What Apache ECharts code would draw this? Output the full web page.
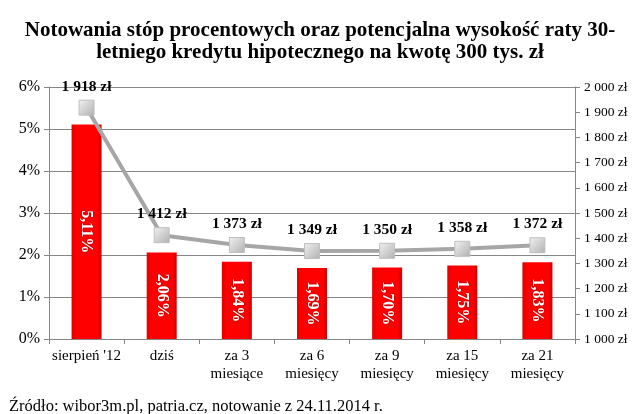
<!DOCTYPE html>
<html><head><meta charset="utf-8">
<script src="https://cdn.jsdelivr.net/npm/echarts@6/dist/echarts.min.js"></script>
<style>html,body{margin:0;padding:0;background:#fff}#c{width:640px;height:414px}</style>
</head><body><div id="c"></div>
<script>
const categories = ["sierpień '12", "dziś", "za 3\nmiesiące", "za 6\nmiesięcy", "za 9\nmiesięcy", "za 15\nmiesięcy", "za 21\nmiesięcy"];
const rates = [5.11, 2.06, 1.84, 1.69, 1.70, 1.75, 1.83];
const installments = [1918, 1412, 1373, 1349, 1350, 1358, 1372];
const titleText = "Notowania stóp procentowych oraz potencjalna wysokość raty 30-\nletniego kredytu hipotecznego na kwotę 300 tys. zł";
const sourceText = "Źródło: wibor3m.pl, patria.cz, notowanie z 24.11.2014 r.";

const serif = "'Liberation Serif', 'DejaVu Serif', serif";
function zl(v){ return String(v).replace(/\B(?=(\d{3})+(?!\d))/g, ' ') + ' zł'; }

const chart = echarts.init(document.getElementById('c'));
chart.setOption({
  animation: false,
  title: [{
    text: titleText, left: 'center', top: 15,
    textStyle: {fontFamily: serif, fontSize: 21, fontWeight: 'bold', color: '#000', lineHeight: 22}
  }, {
    text: sourceText, left: 4, top: 393,
    textStyle: {fontFamily: serif, fontSize: 16.5, fontWeight: 'normal', color: '#000'}
  }],
  grid: {left: 49, right: 65, top: 87, bottom: 75},
  xAxis: {
    type: 'category', data: categories,
    axisLine: {lineStyle: {color: '#868686'}},
    axisTick: {show: true, lineStyle: {color: '#868686'}, length: 5},
    axisLabel: {interval: 0, fontFamily: serif, fontSize: 15, color: '#000', lineHeight: 18, margin: 8}
  },
  yAxis: [{
    type: 'value', min: 0, max: 6, interval: 1,
    axisLine: {show: true, lineStyle: {color: '#868686'}},
    axisTick: {show: true, lineStyle: {color: '#868686'}, length: 5},
    splitLine: {lineStyle: {color: '#868686'}},
    axisLabel: {formatter: v => v + '%', fontFamily: serif, fontSize: 16, color: '#000', margin: 9}
  }, {
    type: 'value', min: 1000, max: 2000, interval: 100,
    axisLine: {show: true, lineStyle: {color: '#868686'}},
    axisTick: {show: true, lineStyle: {color: '#868686'}, length: 5},
    splitLine: {show: false},
    axisLabel: {formatter: v => zl(v), fontFamily: serif, fontSize: 13.5, color: '#000', margin: 9}
  }],
  series: [{
    type: 'bar', data: rates, yAxisIndex: 0, barWidth: 30,
    itemStyle: {color: new echarts.graphic.LinearGradient(0,0,1,0,[
      {offset:0,color:'#e00000'},{offset:0.15,color:'#ff0000'},{offset:0.85,color:'#ff0000'},{offset:1,color:'#d00000'}])},
    label: {show: true, position: 'inside', rotate: -90,
      formatter: p => p.value.toFixed(2).replace('.', ',') + '%',
      fontFamily: serif, fontSize: 16, fontWeight: 'bold', color: '#fff',
      textShadowColor: 'rgba(0,0,0,0.4)', textShadowBlur: 2}
  }, {
    type: 'line', data: installments, yAxisIndex: 1, z: 5,
    lineStyle: {color: '#a6a6a6', width: 4},
    symbol: 'rect', symbolSize: 15,
    itemStyle: {color: new echarts.graphic.LinearGradient(0,0,1,1,[
      {offset:0,color:'#f2f2f2'},{offset:1,color:'#b0b0b0'}]), borderColor: '#bfbfbf', borderWidth: 1},
    label: {show: true, position: 'top', distance: 5, formatter: p => zl(p.value),
      fontFamily: serif, fontSize: 15.5, fontWeight: 'bold', color: '#000'}
  }]
});
</script></body></html>
